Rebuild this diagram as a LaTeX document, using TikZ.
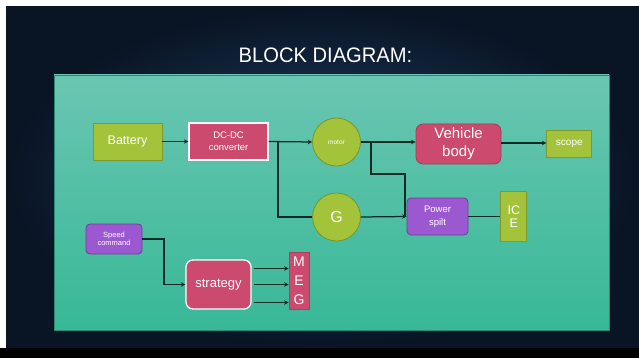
\documentclass[tikz,border=0pt]{standalone}
\usepackage{fontspec}
\setmainfont{Liberation Sans}
\newfontfamily\titlefont[FakeStretch=0.96]{Liberation Sans}
\usepackage{tikz}
\usetikzlibrary{arrows.meta, positioning, calc}
\definecolor{bgdark}{RGB}{9,20,36}
\definecolor{bglight}{RGB}{32,66,102}
\definecolor{paneltop}{RGB}{106,198,178}
\definecolor{panelbot}{RGB}{56,184,150}
\definecolor{limegrn}{RGB}{163,196,58}
\definecolor{rosered}{RGB}{203,74,110}
\definecolor{violetbx}{RGB}{156,88,208}
\definecolor{wirecol}{RGB}{16,42,38}
\newcommand{\fsz}[2]{\fontsize{#1}{#2}\selectfont}

\begin{document}
\begin{tikzpicture}[
  x=1pt, y=-1pt,
  blk/.style      = {rectangle, inner sep=0pt, align=center, text=white},
  limenode/.style = {blk, fill=limegrn, draw=limegrn!78!black, line width=0.8pt},
  rosenode/.style = {blk, fill=rosered, draw=white, line width=1.3pt},
  violnode/.style = {blk, fill=violetbx, draw=violetbx!70!black, line width=0.8pt, rounded corners=4pt},
  wheel/.style    = {circle, inner sep=0pt, minimum size=48pt, fill=limegrn,
                     draw=limegrn!75!black, line width=0.8pt, text=white},
  wire/.style = {line width=1.25pt, color=wirecol},
  arr/.style  = {wire, -{Stealth[length=4.5pt, width=4.5pt]}},
]
\useasboundingbox (0,0) rectangle (639,358);

%% --- slide background ---
\fill[bgdark] (0,0) rectangle (639,358);
\shade[inner color=bglight, outer color=bgdark] (6,6) rectangle (639,348);
\fill[white] (0,0) rectangle (639,6);
\fill[white] (0,0) rectangle (6,358);
\fill[black] (0,348) rectangle (639,358);

\node[text=white, font=\titlefont\fsz{21}{24}] (title) at (325.5,55.5) {BLOCK DIAGRAM:};

%% --- panel ---
\shade[top color=paneltop, bottom color=panelbot, draw=panelbot!75!black, line width=0.6pt]
  (54,75) rectangle (609,330);

%% --- drive train (top row) ---
\node[limenode, minimum width=69pt, minimum height=37pt, font=\fsz{12.5}{15}] (bat) at (127.5,141.5) {Battery};
\node[rosenode, minimum width=79pt, minimum height=37pt, font=\fsz{9.5}{12}, right=26pt of bat] (dcdc) {DC-DC\\converter};
\node[wheel, font=\fsz{6.5}{8}] (mot) at (336.5,142) {motor};
\node[limenode, fill=rosered, draw=rosered!80!black, rounded corners=7pt,
      minimum width=85pt, minimum height=40pt, font=\fsz{15}{18}] (veh) at (458.5,144) {Vehicle\\body};
\node[limenode, minimum width=45pt, minimum height=27pt, font=\fsz{10}{12}, right=45pt of veh] (scp) {scope};

%% --- generator + power split ---
\node[wheel, font=\fsz{16}{18}] (gen) at (336.5,217) {G};
\node[violnode, minimum width=61pt, minimum height=37pt, font=\fsz{9.5}{12.5}] (ps) at (437.5,216.5) {Power\\spilt};
\node[limenode, minimum width=26pt, minimum height=50pt, font=\fsz{12.5}{13}, right=32pt of ps] (ice) {IC\\E};

%% --- control path ---
\node[violnode, minimum width=56pt, minimum height=30pt, font=\fsz{7.5}{8.5}] (spd) at (114,239) {Speed\\command};
\node[rosenode, rounded corners=7pt, minimum width=65pt, minimum height=49pt, font=\fsz{13}{15}] (strat) at (218.5,284.5) {strategy};
\node[limenode, fill=rosered, draw=rosered!85!black, minimum width=20pt, minimum height=57pt,
      font=\fsz{14}{19}] (meg) at (299,280.5) {M\\E\\G};

%% --- connectors ---
\coordinate (sp1) at (278,142);
\coordinate (sp2) at (371,142);
\coordinate (kink) at (405,174);
\coordinate (sk) at (164,239);

\draw[arr] (bat.east) -- (bat.east -| dcdc.west);
\draw[arr] (dcdc.east) -- (mot.west);
\draw[wire] (sp1) |- (gen.west);
\draw[arr] (mot.east) -- (mot.east -| veh.west);
\draw[wire] (sp2) |- (kink) -- (kink |- ps.west);
\draw[arr] (gen.east) -- (ps.west);
\draw[arr] (veh.east) ++(0,-1) coordinate (ve) -- (ve -| scp.west);
\draw[wire] (ps.east) -- (ps.east -| ice.west);
\draw[arr] (spd.east) -- (sk) |- (strat.west);
\foreach \dy in {-16,0,18} {
  \draw[arr] ($(strat.east)+(2,\dy)$) coordinate (s) -- (s -| meg.west);
}

\end{tikzpicture}
\end{document}
